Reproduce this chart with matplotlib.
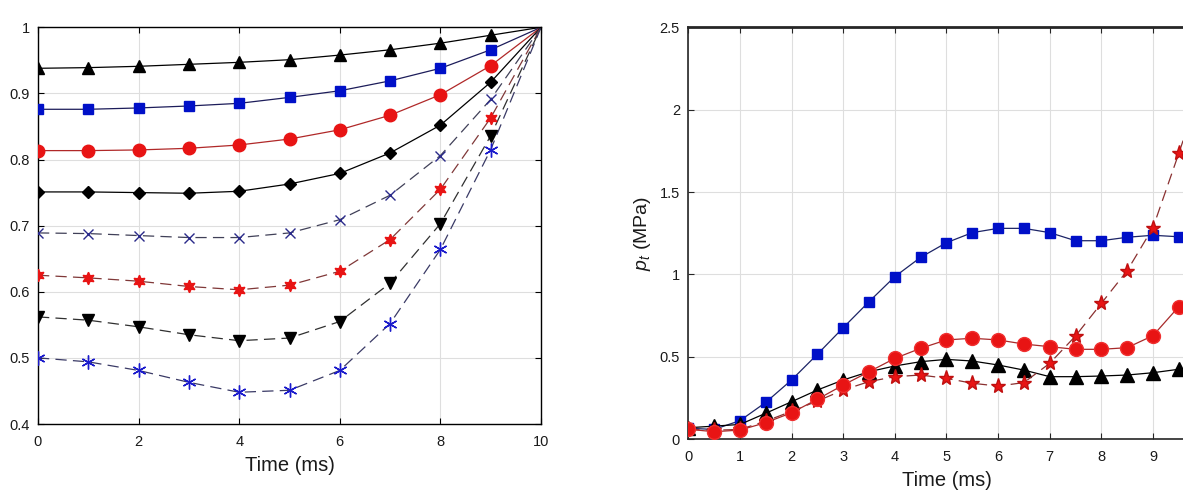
import matplotlib
matplotlib.use("Agg")
import matplotlib.pyplot as plt
import numpy as np

plt.rcParams['font.family'] = ['Liberation Sans', 'DejaVu Sans']
plt.rcParams['mathtext.fontset'] = 'custom'
plt.rcParams['mathtext.rm'] = 'Liberation Sans'
plt.rcParams['mathtext.it'] = 'Liberation Sans:italic'

# ---------------- Left panel data ----------------
t_left = [0, 1, 2, 3, 4, 5, 6, 7, 8, 9, 10]
s_tri = [0.938, 0.939, 0.941, 0.944, 0.947, 0.951, 0.958, 0.966, 0.976, 0.988, 1.0]
s_sq = [0.876, 0.876, 0.878, 0.881, 0.885, 0.894, 0.904, 0.919, 0.938, 0.966, 1.0]
s_circ = [0.8135, 0.8135, 0.8145, 0.817, 0.822, 0.831, 0.845, 0.867, 0.898, 0.942, 1.0]
s_dia = [0.751, 0.751, 0.750, 0.749, 0.752, 0.763, 0.779, 0.810, 0.852, 0.917, 1.0]
s_x = [0.689, 0.688, 0.685, 0.682, 0.682, 0.689, 0.709, 0.746, 0.806, 0.891, 1.0]
s_hex = [0.625, 0.621, 0.616, 0.608, 0.603, 0.610, 0.631, 0.679, 0.755, 0.863, 1.0]
s_down = [0.562, 0.557, 0.547, 0.535, 0.526, 0.530, 0.555, 0.613, 0.703, 0.836, 1.0]
s_ast = [0.500, 0.494, 0.481, 0.463, 0.448, 0.451, 0.481, 0.552, 0.664, 0.815, 1.0]

left_xticks = [0, 2, 4, 6, 8, 10]
left_yticks = [0.4, 0.5, 0.6, 0.7, 0.8, 0.9, 1.0]

# ---------------- Right panel data ----------------
t_right = [0, 0.5, 1, 1.5, 2, 2.5, 3, 3.5, 4, 4.5, 5, 5.5, 6, 6.5, 7, 7.5, 8, 8.5, 9, 9.5, 10]
p_sq = [0.067, 0.060, 0.113, 0.224, 0.360, 0.516, 0.677, 0.835, 0.987, 1.104, 1.193,
        1.254, 1.280, 1.280, 1.254, 1.205, 1.205, 1.226, 1.238, 1.229, 1.22]
p_tri = [0.070, 0.080, 0.090, 0.158, 0.228, 0.299, 0.360, 0.410, 0.445, 0.471, 0.485,
         0.475, 0.451, 0.420, 0.380, 0.380, 0.384, 0.390, 0.404, 0.425, 0.44]
p_circ = [0.061, 0.046, 0.056, 0.101, 0.161, 0.243, 0.329, 0.410, 0.491, 0.552, 0.603,
          0.613, 0.603, 0.578, 0.562, 0.546, 0.546, 0.556, 0.629, 0.805, 1.0]
p_star = [0.060, 0.055, 0.060, 0.110, 0.170, 0.232, 0.299, 0.350, 0.380, 0.390, 0.370,
          0.340, 0.323, 0.344, 0.461, 0.627, 0.825, 1.023, 1.284, 1.735, 2.2]

right_xticks = [0, 1, 2, 3, 4, 5, 6, 7, 8, 9, 10]
right_xticklabels = ['0', '1', '2', '3', '4', '5', '6', '7', '8', '9', '']
right_yticks = [0, 0.5, 1, 1.5, 2, 2.5]

W, H = 1183, 503
fig = plt.figure(figsize=(W / 100, H / 100), dpi=100)

def fx(px):
    return px / W

def fy(py):
    return 1 - py / H

# Left axes
axL = fig.add_axes([fx(38), fy(424), fx(541) - fx(38), fy(27.3) - fy(424)])
# Right axes (extends past the right edge, as in the reference crop)
axR = fig.add_axes([fx(688.3), fy(439.3), fx(1204.6) - fx(688.3), fy(27.3) - fy(439.3)])

red = '#e81414'
blue = '#0010c8'
dash = (9, 5)

def style_axes(ax, spine_color, lw):
    ax.grid(True, color='#dedede', linewidth=0.8)
    ax.set_axisbelow(True)
    ax.tick_params(direction='in', top=True, right=True, length=4, width=0.8,
                   colors=spine_color, labelcolor='#1a1a1a', labelsize=10.5, pad=6)
    ax.tick_params(axis='x', pad=8)
    for s in ax.spines.values():
        s.set_color(spine_color)
        s.set_linewidth(lw)

# ---- left plot ----
lw = 0.9
mk_idx = slice(0, 10)
def plot_left(ax, y, lc, ls, marker, mfc, mec, ms, mew=1.0):
    kw = dict(color=lc, linewidth=lw)
    if ls == '--':
        kw['dashes'] = dash
    ax.plot(t_left, y, **kw, zorder=2)
    ax.plot(t_left[mk_idx], y[mk_idx], linestyle='none', marker=marker,
            markerfacecolor=mfc, markeredgecolor=mec, markersize=ms,
            markeredgewidth=mew, zorder=3)

plot_left(axL, s_tri, 'k', '-', '^', 'k', 'k', 9)
plot_left(axL, s_sq, '#1c1c5a', '-', 's', blue, blue, 7)
plot_left(axL, s_circ, '#b02828', '-', 'o', red, red, 9)
plot_left(axL, s_dia, 'k', '-', 'D', 'k', 'k', 6.5)
plot_left(axL, s_x, '#404058', '--', 'x', '#2a2a8a', '#2a2a8a', 7, 1.0)
plot_left(axL, s_hex, '#803838', '--', (6, 1, 0), red, red, 9, 1.0)
plot_left(axL, s_down, '#303030', '--', 'v', 'k', 'k', 9)
plot_left(axL, s_ast, '#3a3a66', '--', (6, 2, 0), '#1a1acc', '#1a1acc', 10, 1.0)

axL.set_xlim(0, 10)
axL.set_ylim(0.4, 1.0)
axL.set_xticks(left_xticks)
axL.set_yticks(left_yticks)
axL.set_yticklabels(['%g' % v for v in left_yticks])
axL.set_xticklabels(['%g' % v for v in left_xticks])
style_axes(axL, 'k', 1.0)
axL.set_xlabel('Time (ms)', fontsize=14.5, labelpad=5, color='#1a1a1a')

# ---- right plot ----
def plot_right(ax, y, lc, ls, marker, mfc, mec, ms, zo):
    kw = dict(color=lc, linewidth=lw)
    if ls == '--':
        kw['dashes'] = dash
    ax.plot(t_right, y, marker=marker, markerfacecolor=mfc, markeredgecolor=mec,
            markersize=ms, markeredgewidth=1.0, zorder=zo, **kw)

plot_right(axR, p_sq, '#1c2466', '-', 's', blue, blue, 7, 3)
plot_right(axR, p_tri, 'k', '-', '^', 'k', 'k', 9.5, 3)
plot_right(axR, p_star, '#8a3030', '--', '*', red, '#c01010', 11, 4)
plot_right(axR, p_circ, '#a82a2a', '-', 'o', red, '#f03030', 10, 5)

axR.set_xlim(0, 10)
axR.set_ylim(0, 2.5)
axR.set_xticks(right_xticks)
axR.set_yticks(right_yticks)
axR.set_xticklabels(right_xticklabels)
axR.set_yticklabels(['%g' % v for v in right_yticks])
style_axes(axR, '#262626', 1.2)
axR.spines['top'].set_linewidth(2.0)
axR.set_xlabel('Time (ms)', fontsize=14.5, labelpad=5, color='#1a1a1a')
axR.set_ylabel(r'$p_t$ (MPa)', fontsize=14, labelpad=5, color='#1a1a1a')

fig.savefig('out.png', dpi=100)
